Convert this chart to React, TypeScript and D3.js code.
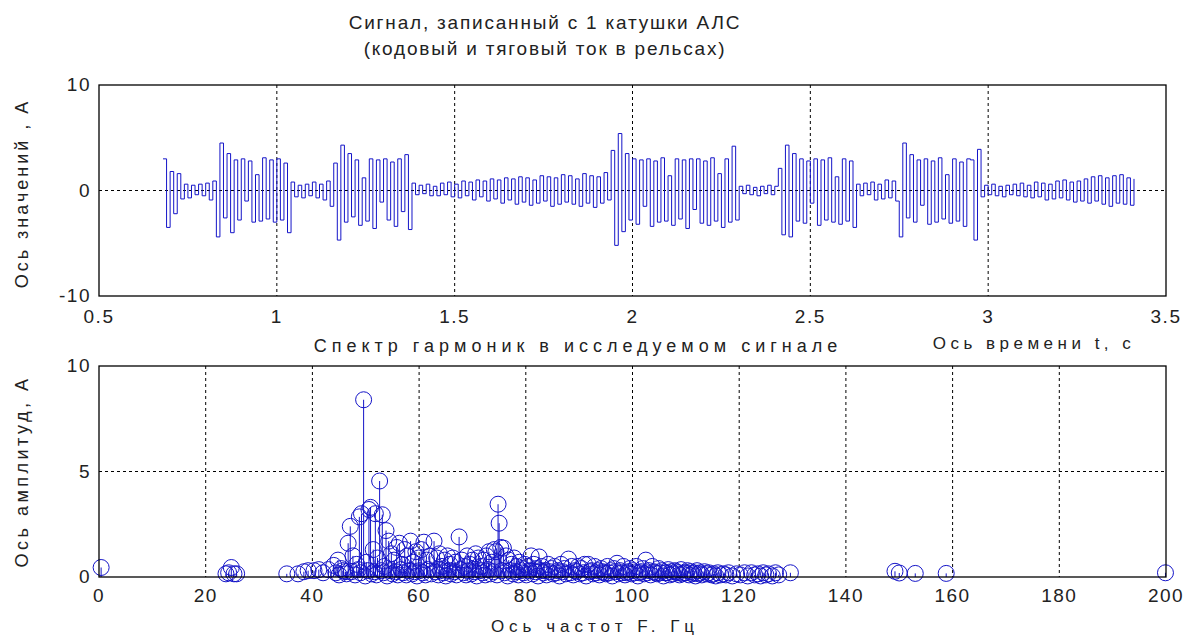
import React from "react";
import * as d3 from "d3";

// sampled coil signal, one value every 0.01 s starting at 0.68 s
const signalStart = 0.68;
const signalStep = 0.01;
const signalValues = [
  3.0, -3.5, 1.8, -2.2, 1.6, -0.8, 0.6, -0.7, 0.5, -0.4, // 0.68
  0.6, -0.5, 0.7, -0.9, 0.9, -4.4, 4.5, -2.6, 3.5, -4.0, // 0.78
  2.9, -2.8, 3.0, -1.0, 2.8, -3.0, 1.5, -2.9, 3.1, -2.7, // 0.88
  2.9, -3.0, 3.0, -2.8, 2.6, -4.0, 0.8, -0.6, 0.5, -0.7, // 0.98
  0.6, -0.5, 0.8, -0.7, 0.6, -0.9, 0.9, -1.5, 2.6, -4.7, // 1.08
  4.3, -3.0, 3.5, -2.5, 2.9, -3.3, 1.2, -2.9, 3.0, -3.6, // 1.18
  2.9, -1.1, 3.0, -2.8, 2.7, -3.4, 3.0, -2.0, 3.4, -3.7, // 1.28
  0.7, -0.4, 0.5, -0.3, 0.6, -0.5, 0.4, -0.5, 0.7, -0.4, // 1.38
  0.8, -0.6, 0.6, -0.7, 0.9, -0.5, 0.8, -0.9, 1.0, -0.6, // 1.48
  0.9, -1.0, 1.1, -0.8, 1.0, -1.2, 1.2, -0.9, 1.1, -1.3, // 1.58
  1.3, -1.1, 1.2, -1.4, 1.0, -1.2, 1.4, -1.0, 1.3, -1.5, // 1.68
  1.2, -1.3, 1.5, -1.1, 1.4, -1.3, 1.1, -1.5, 1.6, -1.2, // 1.78
  1.4, -1.6, 1.3, -1.2, 1.7, -0.9, 3.8, -5.2, 5.4, -3.9, // 1.88
  3.5, -2.8, 3.0, -3.2, 2.9, -1.5, 3.0, -3.4, 2.8, -3.0, // 1.98
  3.1, -2.9, 1.4, -3.3, 3.0, -2.7, 2.9, -3.6, 3.0, -1.8, // 2.08
  3.0, -3.1, 2.8, -3.3, 3.1, -2.9, 1.6, -3.5, 3.0, -3.0, // 2.18
  4.2, -2.8, 0.4, -0.3, 0.5, -0.4, 0.3, -0.5, 0.4, -0.3, // 2.28
  0.5, -0.4, 0.4, 2.1, -4.2, 4.3, -4.4, 3.5, -2.9, 3.0, // 2.38
  -3.1, 2.8, -1.2, 3.0, -3.3, 2.9, -2.8, 3.1, -3.0, 1.3, // 2.48
  -3.2, 3.0, -2.9, 2.8, -3.5, 0.6, -0.5, 0.7, -0.4, 0.8, // 2.58
  -0.9, 0.6, -0.8, 1.0, -0.7, 0.9, -1.0, -4.4, 4.5, -2.6, // 2.68
  3.4, -3.0, 2.9, -1.4, 3.0, -3.2, 2.8, -3.0, 3.1, -2.7, // 2.78
  1.5, -3.1, 3.0, -2.9, 2.7, -3.4, 3.0, 2.9, -4.7, 3.9, // 2.88
  -0.6, 0.5, -0.4, 0.6, -0.5, 0.4, -0.6, 0.5, -0.4, 0.6, // 2.98
  -0.5, 0.7, -0.6, 0.5, -0.7, 0.8, -0.6, 0.7, -0.9, 0.6, // 3.08
  -0.8, 0.9, -0.7, 1.0, -0.9, 0.8, -1.1, 0.9, -1.0, 1.1, // 3.18
  -1.2, 1.3, -1.0, 1.4, -1.3, 1.2, -1.5, 1.4, -1.2, 1.5, // 3.28
  -1.3, 1.2, -1.4, 1.1, // 3.38
];

const timeTicks = [0.5, 1, 1.5, 2, 2.5, 3, 3.5];
const valueTicks = [-10, 0, 10];
const freqTicks = [0, 20, 40, 60, 80, 100, 120, 140, 160, 180, 200];
const ampTicks = [0, 5, 10];

// [frequency Hz, amplitude A] - the visible harmonics
const spectrumPeaks: [number, number][] = [
  [0.4, 0.45],
  [23.8, 0.15], [24.3, 0.2], [24.8, 0.45], [25.3, 0.15], [25.8, 0.15],
  [35.2, 0.15], [37.3, 0.15], [38.4, 0.25], [39.2, 0.3], [40.3, 0.3],
  [41.2, 0.35], [42.0, 0.2], [43.0, 0.35], [44.0, 0.55], [44.8, 0.8],
  [45.4, 0.4], [46.2, 0.25], [46.7, 1.6], [47.1, 2.4], [47.6, 1.0],
  [48.3, 0.6], [48.8, 2.85], [49.2, 3.0], [49.6, 8.4], [50.1, 0.7],
  [50.6, 3.2], [50.9, 3.3], [51.4, 1.3], [51.8, 3.0], [52.2, 0.9],
  [52.6, 4.55], [53.1, 2.95], [53.5, 0.5], [53.8, 2.2], [54.3, 1.7],
  [54.8, 1.1], [55.3, 0.8], [55.8, 1.4], [56.3, 1.6], [56.8, 0.6],
  [57.3, 1.3], [57.8, 1.0], [58.4, 1.7], [58.9, 0.7], [59.4, 1.2],
  [59.9, 0.9], [60.4, 1.3], [60.9, 1.65], [61.4, 0.8], [62.0, 1.0],
  [62.8, 1.7], [63.3, 0.9], [63.8, 1.1], [64.3, 0.5], [64.8, 0.8],
  [65.3, 1.0], [65.8, 0.6], [66.3, 0.9], [66.8, 0.7], [67.5, 1.9],
  [68.0, 0.8], [68.5, 0.5], [69.0, 1.0], [69.5, 0.6], [70.0, 0.8],
  [70.6, 1.1], [71.1, 0.9], [71.6, 0.5], [72.1, 0.8], [72.6, 1.0],
  [73.1, 1.2], [73.6, 0.7], [74.1, 1.3], [74.4, 1.2], [74.8, 3.45],
  [75.0, 2.55], [75.3, 1.4], [75.8, 1.37], [76.3, 1.0], [76.8, 0.8],
  [77.3, 0.6], [77.8, 0.9], [78.3, 0.5], [78.8, 0.7], [79.3, 0.4],
  [79.8, 0.6], [80.4, 0.5], [81.0, 1.0], [81.5, 0.6], [82.0, 0.4],
  [82.5, 0.95], [83.0, 0.5], [83.6, 0.3], [84.2, 0.6], [84.8, 0.4],
  [85.4, 0.5], [86.0, 0.3], [86.6, 0.6], [87.2, 0.4], [88.0, 0.85],
  [88.6, 0.5], [89.2, 0.3], [89.8, 0.5], [90.4, 0.4], [91.0, 0.6],
  [91.7, 0.6], [92.3, 0.3], [92.9, 0.5], [93.5, 0.3], [94.1, 0.4],
  [94.7, 0.2], [95.3, 0.5], [95.9, 0.3], [96.5, 0.4], [97.1, 0.65],
  [97.7, 0.3], [98.3, 0.5], [98.9, 0.2], [99.5, 0.4], [100.1, 0.3],
  [100.7, 0.5], [101.3, 0.2], [101.9, 0.4], [102.5, 0.8], [103.1, 0.3],
  [103.7, 0.5], [104.3, 0.2], [104.9, 0.4], [105.5, 0.3], [106.1, 0.2],
  [106.7, 0.35], [107.3, 0.25], [107.9, 0.3], [108.5, 0.2], [109.1, 0.35],
  [109.7, 0.2], [110.3, 0.3], [110.9, 0.25], [111.5, 0.2], [112.1, 0.3],
  [112.7, 0.2], [113.5, 0.25], [114.3, 0.2], [115.2, 0.15], [116.0, 0.2],
  [117.0, 0.15], [118.0, 0.2], [119.5, 0.15], [121.0, 0.2], [122.3, 0.2],
  [123.5, 0.15], [124.5, 0.2], [125.5, 0.15], [126.8, 0.2], [129.6, 0.2],
  [149.2, 0.27], [150.0, 0.19], [153.0, 0.17], [158.8, 0.17], [199.9, 0.2],
];

// small harmonics that make up the dense floor of the spectrum
const spectrumFloor: [number, number][] = [
  [44.4, 0.2], [45.0, 0.1], [45.7, 0.3], [46.4, 0.15], [47.3, 0.25],
  [48.0, 0.1], [48.6, 0.35], [49.0, 0.2], [49.9, 0.05], [50.4, 0.3],
  [51.1, 0.15], [51.6, 0.25], [52.0, 0.1], [52.9, 0.3], [53.3, 0.2],
  [54.0, 0.05], [54.6, 0.3], [55.0, 0.15], [55.6, 0.25], [56.0, 0.1],
  [56.6, 0.35], [57.0, 0.2], [57.6, 0.1], [58.1, 0.3], [58.7, 0.15],
  [59.1, 0.25], [59.6, 0.05], [60.1, 0.3], [60.7, 0.2], [61.2, 0.1],
  [61.7, 0.35], [62.3, 0.15], [63.0, 0.25], [63.6, 0.1], [64.0, 0.3],
  [64.6, 0.2], [65.0, 0.05], [65.6, 0.3], [66.0, 0.15], [66.6, 0.25],
  [67.0, 0.1], [67.8, 0.35], [68.3, 0.2], [68.8, 0.1], [69.3, 0.3],
  [69.8, 0.15], [70.3, 0.25], [70.8, 0.05], [71.4, 0.3], [71.9, 0.2],
  [72.4, 0.1], [72.9, 0.35], [73.4, 0.15], [73.9, 0.25], [74.6, 0.1],
  [75.5, 0.3], [76.0, 0.2], [76.6, 0.05], [77.1, 0.3], [77.6, 0.15],
  [78.1, 0.25], [78.6, 0.1], [79.1, 0.3], [79.6, 0.2], [80.1, 0.1],
  [80.7, 0.3], [81.3, 0.15], [81.8, 0.25], [82.3, 0.05], [82.8, 0.3],
  [83.3, 0.2], [83.9, 0.1], [84.5, 0.25], [85.1, 0.15], [85.7, 0.2],
  [86.3, 0.05], [86.9, 0.25], [87.5, 0.15], [88.3, 0.2], [88.9, 0.1],
  [89.5, 0.25], [90.1, 0.15], [90.7, 0.2], [91.3, 0.05], [92.0, 0.25],
  [92.6, 0.15], [93.2, 0.2], [93.8, 0.1], [94.4, 0.25], [95.0, 0.15],
  [95.6, 0.2], [96.2, 0.05], [96.8, 0.25], [97.4, 0.15], [98.0, 0.2],
  [98.6, 0.1], [99.2, 0.25], [99.8, 0.15], [100.4, 0.2], [101.0, 0.05],
  [101.6, 0.25], [102.2, 0.15], [102.8, 0.2], [103.4, 0.1], [104.0, 0.25],
  [104.6, 0.15], [105.2, 0.2], [105.8, 0.05], [106.4, 0.2], [107.0, 0.1],
  [107.6, 0.15], [108.2, 0.25], [108.8, 0.1], [109.4, 0.15], [110.0, 0.2],
  [110.6, 0.1], [111.2, 0.15], [111.8, 0.05], [112.4, 0.15], [113.0, 0.1],
  [113.9, 0.15], [114.8, 0.1], [115.6, 0.05], [116.5, 0.1], [117.5, 0.1],
  [118.7, 0.05], [120.2, 0.1], [121.6, 0.05], [122.9, 0.1], [124.0, 0.05],
  [125.0, 0.1], [126.2, 0.05], [127.4, 0.1],
];

const W = 1189;
const H = 637;
const left = 99;
const right = 1166;
const top1 = 85;
const bottom1 = 296;
const top2 = 366;
const bottom2 = 577;
const blue = "#1414c8";
const font = "'Liberation Sans', Arial, sans-serif";
const ink = "#222";

const App = () => {
  const x1 = d3.scaleLinear().domain([0.5, 3.5]).range([left, right]);
  const y1 = d3.scaleLinear().domain([-10, 10]).range([bottom1, top1]);
  const x2 = d3.scaleLinear().domain([0, 200]).range([left, right]);
  const y2 = d3.scaleLinear().domain([0, 10]).range([bottom2, top2]);

  const signalLine = d3
    .line<number>()
    .x((d, i) => x1(signalStart + i * signalStep))
    .y((d) => y1(d))
    .curve(d3.curveStepAfter);

  const stems = [...spectrumFloor, ...spectrumPeaks];

  const tickText = { fontFamily: font, fontSize: 19, fill: ink, letterSpacing: 1.5 };
  const dash = "3,3";

  return (
    <svg
      width={W}
      height={H}
      style={{ position: "absolute", left: 0, top: 0, background: "#fff" }}
    >
      {/* titles */}
      <text x={545} y={29} textAnchor="middle" fontFamily={font} fontSize={19} fill={ink} letterSpacing={1.8}>
        Сигнал, записанный с 1 катушки АЛС
      </text>
      <text x={545} y={55} textAnchor="middle" fontFamily={font} fontSize={19} fill={ink} letterSpacing={1.8}>
        (кодовый и тяговый ток в рельсах)
      </text>

      {/* top plot: signal */}
      <g>
        {timeTicks.slice(1, -1).map((t) => (
          <line key={t} x1={x1(t)} x2={x1(t)} y1={top1} y2={bottom1} stroke="#000" strokeDasharray={dash} />
        ))}
        <line x1={left} x2={right} y1={y1(0)} y2={y1(0)} stroke="#000" strokeDasharray={dash} />
        <path d={signalLine(signalValues) ?? ""} fill="none" stroke={blue} strokeWidth={1} />
        <rect x={left} y={top1} width={right - left} height={bottom1 - top1} fill="none" stroke="#000" strokeWidth={1.3} />
        {timeTicks.map((t) => (
          <text key={t} x={x1(t)} y={323} textAnchor="middle" {...tickText}>
            {t}
          </text>
        ))}
        {valueTicks.map((v) => (
          <text key={v} x={91} y={y1(v) + 6} textAnchor="end" {...tickText}>
            {v}
          </text>
        ))}
        <text
          transform={`translate(28, ${(top1 + bottom1) / 2 + 3}) rotate(-90)`}
          textAnchor="middle"
          fontFamily={font}
          fontSize={18}
          fill={ink}
          letterSpacing={3}
        >
          Ось значений , А
        </text>
        <text x={1034} y={349} textAnchor="middle" fontFamily={font} fontSize={17} fill={ink} letterSpacing={4.5}>
          Ось времени t, с
        </text>
      </g>

      {/* bottom plot: spectrum */}
      <g>
        <text x={578} y={352} textAnchor="middle" fontFamily={font} fontSize={18} fill={ink} letterSpacing={5}>
          Спектр гармоник в исследуемом сигнале
        </text>
        {freqTicks.slice(1, -1).map((f) => (
          <line key={f} x1={x2(f)} x2={x2(f)} y1={top2} y2={bottom2} stroke="#000" strokeDasharray={dash} />
        ))}
        <line x1={left} x2={right} y1={y2(5)} y2={y2(5)} stroke="#000" strokeDasharray={dash} />
        {stems.map(([f, a], i) => (
          <g key={i}>
            <line x1={x2(f)} x2={x2(f)} y1={y2(0)} y2={y2(a)} stroke={blue} strokeWidth={1} />
            <circle cx={x2(f)} cy={y2(a)} r={8} fill="none" stroke={blue} strokeWidth={1} />
          </g>
        ))}
        <rect x={left} y={top2} width={right - left} height={bottom2 - top2} fill="none" stroke="#000" strokeWidth={1.3} />
        {freqTicks.map((f) => (
          <text key={f} x={x2(f)} y={602} textAnchor="middle" {...tickText}>
            {f}
          </text>
        ))}
        {ampTicks.map((v) => (
          <text key={v} x={91} y={y2(v) + 6} textAnchor="end" {...tickText}>
            {v}
          </text>
        ))}
        <text
          transform={`translate(28, ${(top2 + bottom2) / 2}) rotate(-90)`}
          textAnchor="middle"
          fontFamily={font}
          fontSize={18}
          fill={ink}
          letterSpacing={3.5}
        >
          Ось амплитуд, А
        </text>
        <text x={595} y={632} textAnchor="middle" fontFamily={font} fontSize={17} fill={ink} letterSpacing={5}>
          Ось частот F. Гц
        </text>
      </g>
    </svg>
  );
};

export default App;
